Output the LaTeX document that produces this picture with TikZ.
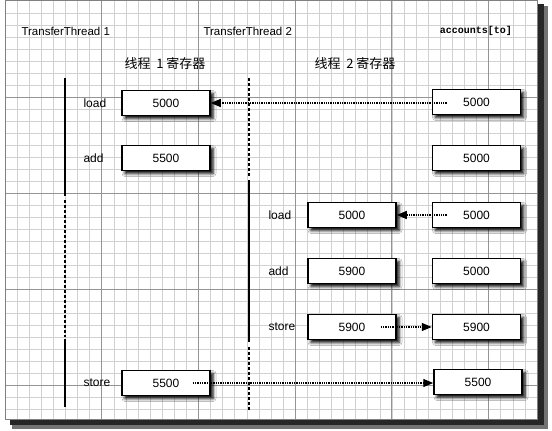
\documentclass[tikz,border=0pt]{standalone}
\usepackage{fontspec}
\setmainfont{Liberation Sans}
\newfontfamily\cjk{Noto Sans CJK SC}
\newfontfamily\codefont{Liberation Mono}
\usetikzlibrary{arrows.meta,shadows.blur}
\tikzset{>={Triangle[length=10pt,width=8pt]}}
\tikzset{
  reg/.style={draw,line width=1.5pt,fill=white,minimum width=88pt,minimum height=25pt,
    font=\fontsize{12}{14}\selectfont,
    blur shadow={shadow xshift=3pt,shadow yshift=-3pt,shadow blur radius=3pt,shadow opacity=100}},
  op/.style={anchor=west,font=\fontsize{12}{14}\selectfont},
  title/.style={font=\fontsize{11.5}{14}\selectfont},
  flow/.style={->,densely dotted,line width=1.3pt},
  life/.style={line width=1.8pt},
  lifegap/.style={line width=1.8pt,dash pattern=on 3pt off 2pt},
  minorline/.style={black!18,line width=0.5pt},
  majorline/.style={black!42,line width=0.8pt}
}

\begin{document}
\begin{tikzpicture}[x=1pt,y=-1pt]
      \useasboundingbox (0,0) rectangle (552,431);

      \fill[black!55] (12,6) rectangle (548,429);
      \fill[black!85] (10,4) rectangle (544,425);
      \fill[white] (5,0) rectangle (537,419);

      \foreach \i in {1,...,43} {
        \draw[minorline] ({5+12.09*\i},0) -- ({5+12.09*\i},419);
      }
      \foreach \j in {1,...,34} {
        \draw[minorline] (5,{1+12*\j}) -- (537,{1+12*\j});
      }
      \foreach \i in {1,...,5} {
        \draw[majorline] ({5+96.7*\i},0) -- ({5+96.7*\i},419);
      }
      \foreach \j in {1,...,4} {
        \draw[majorline] (5,{1+96*\j}) -- (537,{1+96*\j});
      }
      \draw[black!50,line width=0.8pt] (5,0) rectangle (537,419);

      \node[title,anchor=west](t1) at (18, 31) {TransferThread 1};
      \node[title,anchor=west](t2) at (200, 31) {TransferThread 2};
      \node[font=\codefont\bfseries\fontsize{10}{12}\selectfont](acc) at (476, 31) {accounts[to]};

      \node[font=\cjk\fontsize{13}{15}\selectfont](reg1) at (165, 64) {线程\ \ 1\ 寄存器};
      \node[font=\cjk\fontsize{13}{15}\selectfont](reg2) at (355, 64) {线程\ \ 2\ 寄存器};

      \draw[life] (65, 78) -- (65, 196);
      \draw[lifegap] (65, 200) -- (65, 337);
      \draw[life] (65, 339) -- (65, 407);

      \draw[lifegap] (249, 78) -- (249, 176);
      \draw[life] (249, 180) -- (249, 342);
      \draw[lifegap] (249, 347) -- (249, 410);

      \node[op](op1load) at (80, 103) {load};
      \node[op](op1add) at (80, 158) {add};
      \node[op](op1store) at (80, 383) {store};

      \node[op](op2load) at (265, 215) {load};
      \node[op](op2add) at (265, 271) {add};
      \node[op](op2store) at (265, 327) {store};

      \node[reg](r1load) at (166, 103) {5000};
      \node[reg](r1add) at (166, 158) {5500};
      \node[reg](r1store) at (166, 383) {5500};

      \node[reg](r2load) at (352, 215) {5000};
      \node[reg](r2add) at (352, 271) {5900};
      \node[reg](r2store) at (352, 327) {5900};

      \node[reg](a1) at (476.5, 102) {5000};
      \node[reg](a2) at (476.5, 158) {5000};
      \node[reg](a3) at (476.5, 215) {5000};
      \node[reg](a4) at (476.5, 271) {5000};
      \node[reg](a5) at (476.5, 327) {5900};
      \node[reg](a6) at (478, 382) {5500};

      \draw[flow] ([xshift=15pt]a1.west |- r1load.east) -- (r1load.east);
      \draw[flow] ([xshift=15pt]a3.west) -- (r2load.east);
      \draw[flow] ([xshift=-16pt]r2store.east) -- (a5.west);
      \draw[flow] ([xshift=-18pt]r1store.east) -- (a6.west |- r1store.east);
    \end{tikzpicture}
\end{document}
